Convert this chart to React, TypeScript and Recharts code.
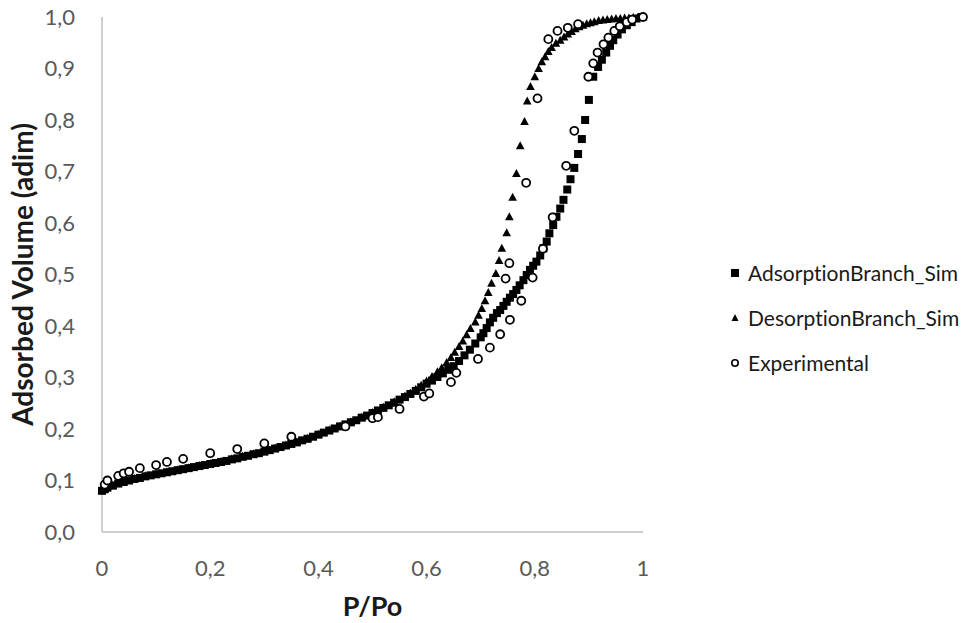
import { Label, Legend, Scatter, ScatterChart, XAxis, YAxis } from "recharts";

// values (P/Po, adsorbed volume)
const adsorptionBranch: [number, number][] = [
  [0, 0.08], [0.005, 0.083], [0.01, 0.086], [0.02, 0.09], [0.03, 0.094], [0.04, 0.097],
  [0.05, 0.1], [0.06, 0.103], [0.07, 0.105], [0.08, 0.108], [0.09, 0.11], [0.1, 0.112],
  [0.11, 0.114], [0.12, 0.116], [0.13, 0.118], [0.14, 0.12], [0.15, 0.122], [0.16, 0.124],
  [0.17, 0.126], [0.18, 0.128], [0.19, 0.13], [0.2, 0.132], [0.21, 0.134], [0.22, 0.136],
  [0.23, 0.138], [0.24, 0.141], [0.25, 0.143], [0.26, 0.146], [0.27, 0.148], [0.28, 0.151],
  [0.29, 0.153], [0.3, 0.156], [0.31, 0.159], [0.32, 0.162], [0.33, 0.165], [0.34, 0.168],
  [0.35, 0.171], [0.36, 0.174], [0.37, 0.178], [0.38, 0.181], [0.39, 0.185], [0.4, 0.189],
  [0.41, 0.193], [0.42, 0.197], [0.43, 0.201], [0.44, 0.205], [0.45, 0.209], [0.46, 0.213],
  [0.47, 0.217], [0.48, 0.222], [0.49, 0.226], [0.5, 0.231], [0.51, 0.236], [0.52, 0.241],
  [0.53, 0.246], [0.54, 0.251], [0.55, 0.257], [0.56, 0.262], [0.57, 0.268], [0.58, 0.274],
  [0.59, 0.281], [0.6, 0.288], [0.61, 0.294], [0.62, 0.301], [0.63, 0.308], [0.64, 0.315],
  [0.65, 0.322], [0.66, 0.332], [0.67, 0.343], [0.68, 0.354], [0.69, 0.366], [0.7, 0.378],
  [0.705, 0.386], [0.711, 0.396], [0.717, 0.407], [0.723, 0.416], [0.73, 0.425], [0.736, 0.431],
  [0.742, 0.439], [0.748, 0.447], [0.754, 0.455], [0.76, 0.462], [0.766, 0.47], [0.772, 0.479],
  [0.779, 0.489], [0.785, 0.499], [0.791, 0.509], [0.797, 0.517], [0.803, 0.525], [0.81, 0.537],
  [0.816, 0.551], [0.822, 0.564], [0.827, 0.58], [0.834, 0.596], [0.84, 0.612], [0.847, 0.628],
  [0.853, 0.645], [0.86, 0.665], [0.866, 0.685], [0.873, 0.707], [0.88, 0.734], [0.887, 0.763],
  [0.893, 0.8], [0.9, 0.839], [0.908, 0.884], [0.917, 0.903], [0.924, 0.917], [0.932, 0.931],
  [0.939, 0.944], [0.945, 0.955], [0.953, 0.966], [0.961, 0.976], [0.97, 0.984], [0.979, 0.99],
  [0.988, 0.997], [0.998, 1.0],
];

const desorptionBranch: [number, number][] = [
  [0, 0.081], [0.02, 0.091], [0.04, 0.098], [0.06, 0.104], [0.08, 0.109], [0.1, 0.113],
  [0.12, 0.117], [0.14, 0.121], [0.16, 0.125], [0.18, 0.129], [0.2, 0.133], [0.22, 0.137],
  [0.24, 0.142], [0.26, 0.147], [0.28, 0.152], [0.3, 0.157], [0.32, 0.163], [0.34, 0.169],
  [0.36, 0.175], [0.38, 0.182], [0.4, 0.19], [0.42, 0.198], [0.44, 0.206], [0.46, 0.214],
  [0.48, 0.223], [0.5, 0.232], [0.52, 0.242], [0.54, 0.253], [0.56, 0.264], [0.57, 0.27],
  [0.58, 0.277], [0.59, 0.285], [0.6, 0.293], [0.61, 0.302], [0.62, 0.311], [0.628, 0.319],
  [0.637, 0.329], [0.645, 0.339], [0.652, 0.349], [0.66, 0.36], [0.667, 0.371], [0.674, 0.383],
  [0.681, 0.395], [0.69, 0.408], [0.696, 0.421], [0.702, 0.434], [0.708, 0.449], [0.714, 0.465],
  [0.72, 0.483], [0.728, 0.502], [0.734, 0.527], [0.739, 0.551], [0.748, 0.581], [0.753, 0.612],
  [0.759, 0.65], [0.766, 0.696], [0.773, 0.75], [0.781, 0.797], [0.786, 0.837], [0.792, 0.865],
  [0.8, 0.884], [0.807, 0.9], [0.813, 0.913], [0.819, 0.923], [0.825, 0.933], [0.831, 0.941],
  [0.839, 0.949], [0.847, 0.955], [0.854, 0.961], [0.861, 0.967], [0.868, 0.972], [0.875, 0.977],
  [0.882, 0.981], [0.889, 0.984], [0.896, 0.987], [0.903, 0.989], [0.91, 0.991], [0.918, 0.993],
  [0.926, 0.994], [0.934, 0.995], [0.942, 0.996], [0.95, 0.997], [0.958, 0.997], [0.966, 0.998],
  [0.974, 0.998], [0.982, 0.999], [0.99, 0.999], [1, 1],
];

const experimental: [number, number][] = [
  [0.005, 0.092], [0.01, 0.1], [0.03, 0.109], [0.04, 0.114], [0.05, 0.117], [0.07, 0.124],
  [0.1, 0.13], [0.12, 0.136], [0.15, 0.142], [0.2, 0.153], [0.25, 0.161], [0.3, 0.172],
  [0.35, 0.185], [0.45, 0.205], [0.5, 0.221], [0.51, 0.223], [0.55, 0.239], [0.595, 0.263],
  [0.605, 0.269], [0.645, 0.291], [0.655, 0.309], [0.695, 0.336], [0.717, 0.358], [0.736, 0.384],
  [0.754, 0.412], [0.775, 0.449], [0.746, 0.492], [0.753, 0.522], [0.796, 0.494], [0.815, 0.55],
  [0.833, 0.611], [0.784, 0.678], [0.858, 0.711], [0.873, 0.779], [0.805, 0.842], [0.899, 0.884],
  [0.908, 0.91], [0.916, 0.931], [0.927, 0.947], [0.936, 0.96], [0.947, 0.973], [0.957, 0.982],
  [0.825, 0.957], [0.842, 0.973], [0.861, 0.979], [0.88, 0.986], [0.97, 0.99], [0.98, 0.995],
  [1, 1],
];

const seriesNames = ["AdsorptionBranch_Sim", "DesorptionBranch_Sim", "Experimental"];
const xTicks = [0, 0.2, 0.4, 0.6, 0.8, 1];
const xTickLabels = ["0", "0,2", "0,4", "0,6", "0,8", "1"];
const yTicks = [0, 0.1, 0.2, 0.3, 0.4, 0.5, 0.6, 0.7, 0.8, 0.9, 1];
const yTickLabels = ["0,0", "0,1", "0,2", "0,3", "0,4", "0,5", "0,6", "0,7", "0,8", "0,9", "1,0"];

const FONT = "Lato, 'Open Sans', sans-serif";
const toPoints = (arr: [number, number][]) => arr.map(([x, y]) => ({ x, y }));
const labelFor = (ticks: number[], labels: string[]) => (v: number) => {
  const i = ticks.findIndex((t) => Math.abs(t - v) < 1e-9);
  return i >= 0 ? labels[i] : String(v);
};

function SquareMark({ cx, cy }: any) {
  return <rect x={cx - 4} y={cy - 4} width={8} height={8} fill="#000" />;
}

function TriangleMark({ cx, cy }: any) {
  return <polygon points={`${cx},${cy - 4.5} ${cx + 4.3},${cy + 3.5} ${cx - 4.3},${cy + 3.5}`} fill="#000" />;
}

function CircleMark({ cx, cy }: any) {
  return <circle cx={cx} cy={cy} r={4} fill="#fff" stroke="#000" strokeWidth={1.8} />;
}

function LegendBox() {
  const marks = [
    <rect key="s" x={4} y={3} width={8} height={8} fill="#000" />,
    <polygon key="t" points="8,3 11.5,10 4.5,10" fill="#000" />,
    <circle key="c" cx={8} cy={7} r={3.2} fill="#fff" stroke="#000" strokeWidth={1.6} />,
  ];
  return (
    <div style={{ fontFamily: FONT, fontSize: 21, color: "#1a1a1a", fontVariantLigatures: "none" }}>
      {seriesNames.map((n, i) => (
        <div key={n} style={{ height: 45, display: "flex", alignItems: "center", whiteSpace: "nowrap" }}>
          <svg width={21} height={14} style={{ flex: "none" }}>
            {marks[i]}
          </svg>
          <span>{n}</span>
        </div>
      ))}
    </div>
  );
}

const tickStyle = { fill: "#595959", fontSize: 22, fontFamily: FONT };

export default function App() {
  return (
    <div style={{ position: "absolute", left: 0, top: 0, width: 964, height: 623, background: "#fff" }}>
      <ScatterChart width={964} height={623} margin={{ top: 17, right: 321, bottom: 0, left: 0 }}>
        <XAxis
          dataKey="x"
          type="number"
          domain={[0, 1]}
          ticks={xTicks}
          tickFormatter={labelFor(xTicks, xTickLabels)}
          tick={tickStyle}
          tickLine={false}
          tickMargin={22}
          axisLine={{ stroke: "#bfbfbf", strokeWidth: 1.5 }}
          height={91}
        >
          <Label
            content={({ viewBox }: any) => (
              <text
                x={viewBox.x + viewBox.width / 2}
                y={viewBox.y + 73}
                textAnchor="middle"
                dominantBaseline="central"
                fontFamily={FONT}
                fontWeight={700}
                fontSize={27}
                fill="#1a1a1a"
              >
                P/Po
              </text>
            )}
          />
        </XAxis>
        <YAxis
          dataKey="y"
          type="number"
          domain={[0, 1]}
          ticks={yTicks}
          tickFormatter={labelFor(yTicks, yTickLabels)}
          tick={tickStyle}
          tickLine={false}
          tickMargin={21}
          axisLine={{ stroke: "#bfbfbf", strokeWidth: 1.5 }}
          width={102}
        >
          <Label
            content={({ viewBox }: any) => {
              const cx = viewBox.x + 22;
              const cy = viewBox.y + viewBox.height / 2;
              return (
                <text
                  x={cx}
                  y={cy}
                  transform={`rotate(-90 ${cx} ${cy})`}
                  textAnchor="middle"
                  dominantBaseline="central"
                  fontFamily={FONT}
                  fontWeight={700}
                  fontSize={28}
                  fill="#1a1a1a"
                >
                  Adsorbed Volume (adim)
                </text>
              );
            }}
          />
        </YAxis>
        <Legend
          layout="vertical"
          align="center"
          verticalAlign="middle"
          wrapperStyle={{ left: 727, top: 250 }}
          content={() => <LegendBox />}
        />
        <Scatter name={seriesNames[0]} data={toPoints(adsorptionBranch)} shape={SquareMark} isAnimationActive={false} />
        <Scatter name={seriesNames[1]} data={toPoints(desorptionBranch)} shape={TriangleMark} isAnimationActive={false} />
        <Scatter name={seriesNames[2]} data={toPoints(experimental)} shape={CircleMark} isAnimationActive={false} />
      </ScatterChart>
    </div>
  );
}
